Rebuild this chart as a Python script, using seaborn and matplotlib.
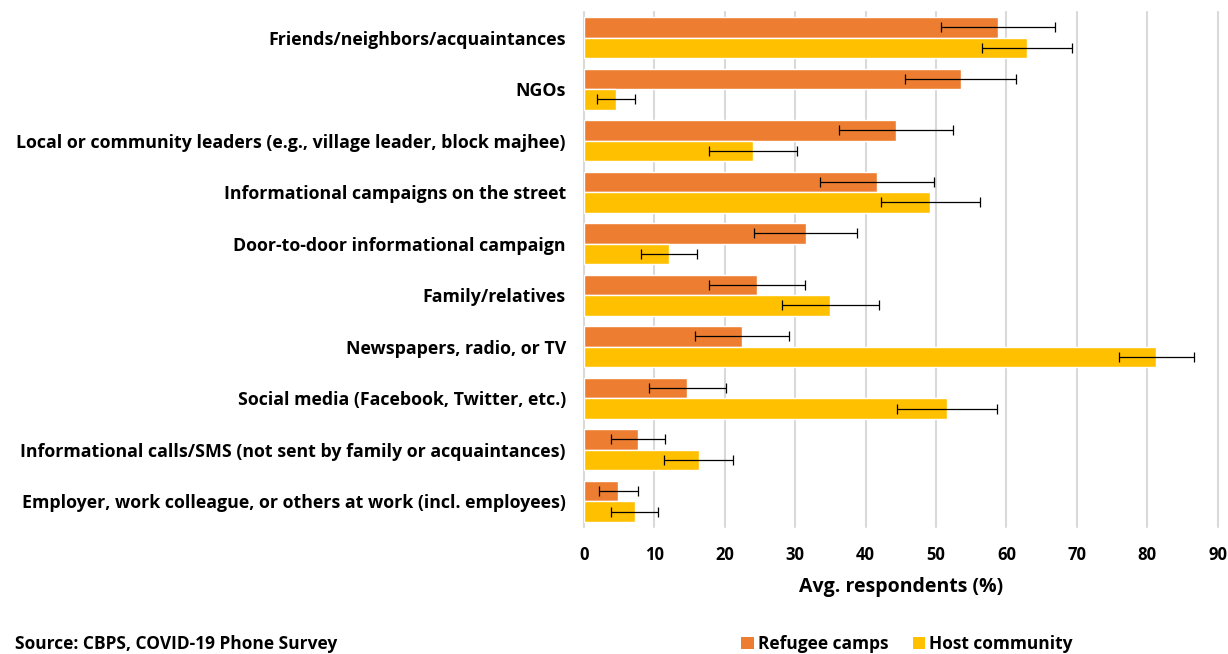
import matplotlib
matplotlib.use("Agg")
import matplotlib.pyplot as plt
import seaborn as sns
import pandas as pd
from matplotlib.patches import Patch

# Information sources about COVID-19, share of respondents by group
sources = [
    "Friends/neighbors/acquaintances",
    "NGOs",
    "Local or community leaders (e.g., village leader, block majhee)",
    "Informational campaigns on the street",
    "Door-to-door informational campaign",
    "Family/relatives",
    "Newspapers, radio, or TV",
    "Social media (Facebook, Twitter, etc.)",
    "Informational calls/SMS (not sent by family or acquaintances)",
    "Employer, work colleague, or others at work (incl. employees)",
]
groups = ["Refugee camps", "Host community"]
refugee_pct = [58.8, 53.5, 44.3, 41.6, 31.5, 24.6, 22.4, 14.7, 7.7, 4.9]
refugee_err = [8.1, 7.9, 8.1, 8.1, 7.3, 6.8, 6.7, 5.5, 3.8, 2.8]
host_pct = [62.9, 4.6, 24.0, 49.2, 12.1, 35.0, 81.3, 51.6, 16.3, 7.2]
host_err = [6.4, 2.7, 6.3, 7.0, 4.0, 6.9, 5.3, 7.1, 4.9, 3.3]
x_ticks = [0, 10, 20, 30, 40, 50, 60, 70, 80, 90]

colors = {"Refugee camps": "#ED7D31", "Host community": "#FFC000"}

df = pd.DataFrame({
    "source": sources * 2,
    "group": [groups[0]] * len(sources) + [groups[1]] * len(sources),
    "pct": refugee_pct + host_pct,
    "err": refugee_err + host_err,
})

sns.set_theme(style="white")
plt.rcParams["font.family"] = ["Open Sans", "DejaVu Sans"]
plt.rcParams["font.weight"] = "bold"
plt.rcParams["text.color"] = "black"
plt.rcParams["axes.labelcolor"] = "black"
plt.rcParams["xtick.color"] = "black"
plt.rcParams["ytick.color"] = "black"

fig = plt.figure(figsize=(12.28, 6.54), dpi=100)
ax = fig.add_axes([584 / 1228, 1 - 527 / 654, (1217.6 - 584) / 1228, (527 - 11.85) / 654])

sns.barplot(
    data=df, y="source", x="pct", hue="group", order=sources, hue_order=groups,
    palette=colors, orient="h", width=0.8, errorbar=None, legend=False,
    saturation=1, ax=ax, zorder=2,
)

# Error bars placed on each bar's centre and tip
for container, grp in zip(ax.containers, groups):
    sub = df[df["group"] == grp].set_index("source").loc[sources]
    ys = [p.get_y() + p.get_height() / 2 for p in container.patches]
    xs = [p.get_width() for p in container.patches]
    ax.errorbar(xs, ys, xerr=sub["err"].values, fmt="none", ecolor="black",
                elinewidth=0.9, capsize=3.4, capthick=0.9, zorder=3)

ax.set_xlim(0, 90)
ax.set_ylim(len(sources) - 0.5, -0.5)
ax.set_xticks(x_ticks)
ax.set_xticklabels([str(t) for t in x_ticks], fontsize=12, fontweight="bold")
ax.tick_params(axis="x", length=0, pad=14)
ax.tick_params(axis="y", length=0, pad=13)
for lbl in ax.get_yticklabels():
    lbl.set_fontsize(12.8)
    lbl.set_fontweight("bold")
ax.set_ylabel("")
ax.set_xlabel("Avg. respondents (%)", fontsize=14, fontweight="bold", labelpad=9)

ax.grid(axis="x", color="#D9D9D9", linewidth=1.5, zorder=0)
for gl in ax.get_xgridlines():
    gl.set_clip_on(False)
ax.set_axisbelow(True)
for s in ax.spines.values():
    s.set_visible(False)

handles = [Patch(facecolor=colors[g], edgecolor="none", label=g) for g in groups]
fig.legend(handles=handles, loc="center", bbox_to_anchor=(907 / 1228, 1 - 644 / 654),
           ncol=2, frameon=False, handlelength=0.7, handleheight=0.7,
           handletextpad=0.25, columnspacing=1.4, borderpad=0.2,
           prop={"size": 12.5, "weight": "bold"})

fig.text(15 / 1228, 1 / 654, "Source: CBPS, COVID-19 Phone Survey",
         ha="left", va="bottom", fontsize=12.5, fontweight="bold")

fig.savefig("out.png", dpi=100)
